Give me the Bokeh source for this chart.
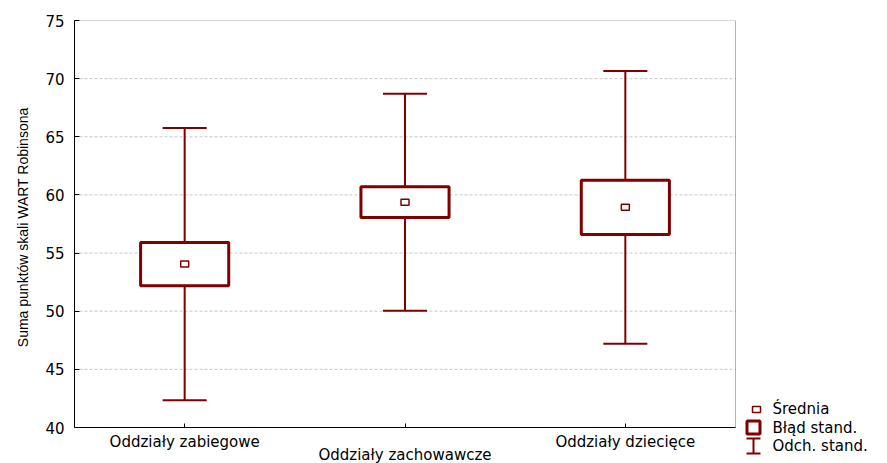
from bokeh.plotting import figure
from bokeh.models import Range1d, FixedTicker, LinearAxis, BoxAnnotation, Title
from bokeh.embed import file_html
from bokeh.resources import INLINE
from bokeh.core.properties import value

# ---- data ----
categories = ["Oddziały zabiegowe", "Oddziały zachowawcze", "Oddziały dziecięce"]
positions = [1, 2, 3]
means = [54.05, 59.38, 58.93]
std_err = [1.85, 1.33, 2.33]
std_dev = [11.70, 9.33, 11.73]
y_ticks = [40, 45, 50, 55, 60, 65, 70, 75]
y_start, y_end = 40, 75
x_start, x_stop = 0.5, 3.5
legend_labels = ["Średnia", "Błąd stand.", "Odch. stand."]
y_title = "Suma punktów skali WART Robinsona"

# ---- layout (pixels) ----
W, H = 887, 463
BOX_LEFT, BOX_RIGHT, BOX_TOP, BOX_BOTTOM = 74, 735, 20, 427
xscale = (BOX_RIGHT - BOX_LEFT) / (x_stop - x_start)
yscale = (BOX_BOTTOM - BOX_TOP) / (y_end - y_start)
x_end = x_start + (W - BOX_LEFT) / xscale
y_lo = y_start - (H - BOX_BOTTOM) / yscale


def dx(px):
    return x_start + (px - BOX_LEFT) / xscale


def dy(py):
    return y_end - (py - BOX_TOP) / yscale


DARK = "#800000"
TICK_FONT = "DejaVu Sans"
TICK_SIZE = "15px"

box_lo = [m - e for m, e in zip(means, std_err)]
box_hi = [m + e for m, e in zip(means, std_err)]
wh_lo = [m - d for m, d in zip(means, std_dev)]
wh_hi = [m + d for m, d in zip(means, std_dev)]
cap = 0.1
box_w = 0.4

p = figure(width=W, height=H,
           x_range=Range1d(x_start, x_end), y_range=Range1d(y_lo, y_end),
           output_backend="svg", toolbar_location=None,
           x_axis_location=None,
           min_border_left=BOX_LEFT, min_border_right=0,
           min_border_top=BOX_TOP, min_border_bottom=0)
p.background_fill_color = "white"
p.border_fill_color = "white"
p.outline_line_color = None
p.grid.visible = False

# grid lines (dashed), inside the box only
grid_ticks = [t for t in y_ticks if y_start < t < y_end]
p.segment(x0=[x_start] * len(grid_ticks), y0=grid_ticks,
          x1=[x_stop] * len(grid_ticks), y1=grid_ticks,
          line_color="#c8c8c8", line_width=1, line_dash="3 2")

# whiskers (SD)
p.segment(x0=positions, y0=wh_lo, x1=positions, y1=box_lo, line_color=DARK, line_width=2)
p.segment(x0=positions, y0=box_hi, x1=positions, y1=wh_hi, line_color=DARK, line_width=2)
p.segment(x0=[x - cap for x in positions], y0=wh_lo, x1=[x + cap for x in positions], y1=wh_lo,
          line_color=DARK, line_width=2)
p.segment(x0=[x - cap for x in positions], y0=wh_hi, x1=[x + cap for x in positions], y1=wh_hi,
          line_color=DARK, line_width=2)
# boxes (SE)
p.vbar(x=positions, width=box_w, bottom=box_lo, top=box_hi,
       fill_color="white", line_color=DARK, line_width=3)
# means
p.rect(x=positions, y=means, width=8, height=6, width_units="screen", height_units="screen",
       fill_color="white", line_color=DARK, line_width=1.5)

# plot box
p.add_layout(BoxAnnotation(left=x_start, right=x_stop, bottom=y_start, top=y_end,
                           fill_color=None, line_color="black", line_width=1))

# y axis
ya = p.yaxis[0]
ya.bounds = (y_start, y_end)
ya.ticker = FixedTicker(ticks=y_ticks)
ya.major_tick_in = 5
ya.major_tick_out = 0
ya.minor_tick_line_color = None
ya.minor_tick_in = 0
ya.minor_tick_out = 0
ya.major_label_standoff = 10
ya.major_label_text_font = TICK_FONT
ya.major_label_text_font_size = TICK_SIZE
ya.major_label_text_color = "black"
ya.axis_line_color = "black"
ya.major_tick_line_color = "black"

# y title, placed along the box height
p.add_layout(Title(text=y_title, align="right", offset=87, standoff=24,
                   text_font="Liberation Sans", text_font_size="14px",
                   text_font_style="normal", text_color="black"), "left")

# x axis (first row of category labels)
xa = LinearAxis(ticker=FixedTicker(ticks=positions), fixed_location=y_start,
                bounds=(x_start, x_stop))
xa.major_label_overrides = {positions[0]: categories[0], positions[1]: "",
                            positions[2]: categories[2]}
xa.major_tick_in = 4
xa.major_tick_out = 0
xa.minor_tick_line_color = None
xa.major_label_standoff = 5
xa.major_label_text_font = TICK_FONT
xa.major_label_text_font_size = TICK_SIZE
xa.major_label_text_color = "black"
xa.axis_line_color = "black"
xa.major_tick_line_color = "black"
p.add_layout(xa, "below")

# second (staggered) row of category labels
xb = LinearAxis(ticker=FixedTicker(ticks=[positions[1]]), fixed_location=y_start,
                bounds=(x_start, x_stop))
xb.major_label_overrides = {positions[1]: categories[1]}
xb.axis_line_color = None
xb.major_tick_line_color = None
xb.minor_tick_line_color = None
xb.major_tick_in = 0
xb.major_tick_out = 0
xb.minor_tick_in = 0
xb.minor_tick_out = 0
xb.major_label_standoff = 18
xb.major_label_text_font = TICK_FONT
xb.major_label_text_font_size = TICK_SIZE
xb.major_label_text_color = "black"
p.add_layout(xb, "below")

# ---- legend (drawn at pixel anchors, right of the box) ----
p.rect(x=[dx(756)], y=[dy(409)], width=8, height=6, width_units="screen", height_units="screen",
       fill_color="white", line_color=DARK, line_width=1.5)
p.rect(x=[dx(753)], y=[dy(427)], width=13, height=13, width_units="screen", height_units="screen",
       fill_color="white", line_color=DARK, line_width=3)
p.segment(x0=[dx(753)], y0=[dy(438)], x1=[dx(753)], y1=[dy(453)], line_color=DARK, line_width=2)
p.segment(x0=[dx(746), dx(746)], y0=[dy(438), dy(453)], x1=[dx(760), dx(760)], y1=[dy(438), dy(453)],
          line_color=DARK, line_width=2)
p.text(x=[dx(772)] * 3, y=[dy(408), dy(427), dy(445)], text=legend_labels,
       text_font=value(TICK_FONT), text_font_size=value(TICK_SIZE),
       text_baseline="middle", text_align="left", text_color="black")

open("out.html", "w").write(file_html(p, INLINE))
